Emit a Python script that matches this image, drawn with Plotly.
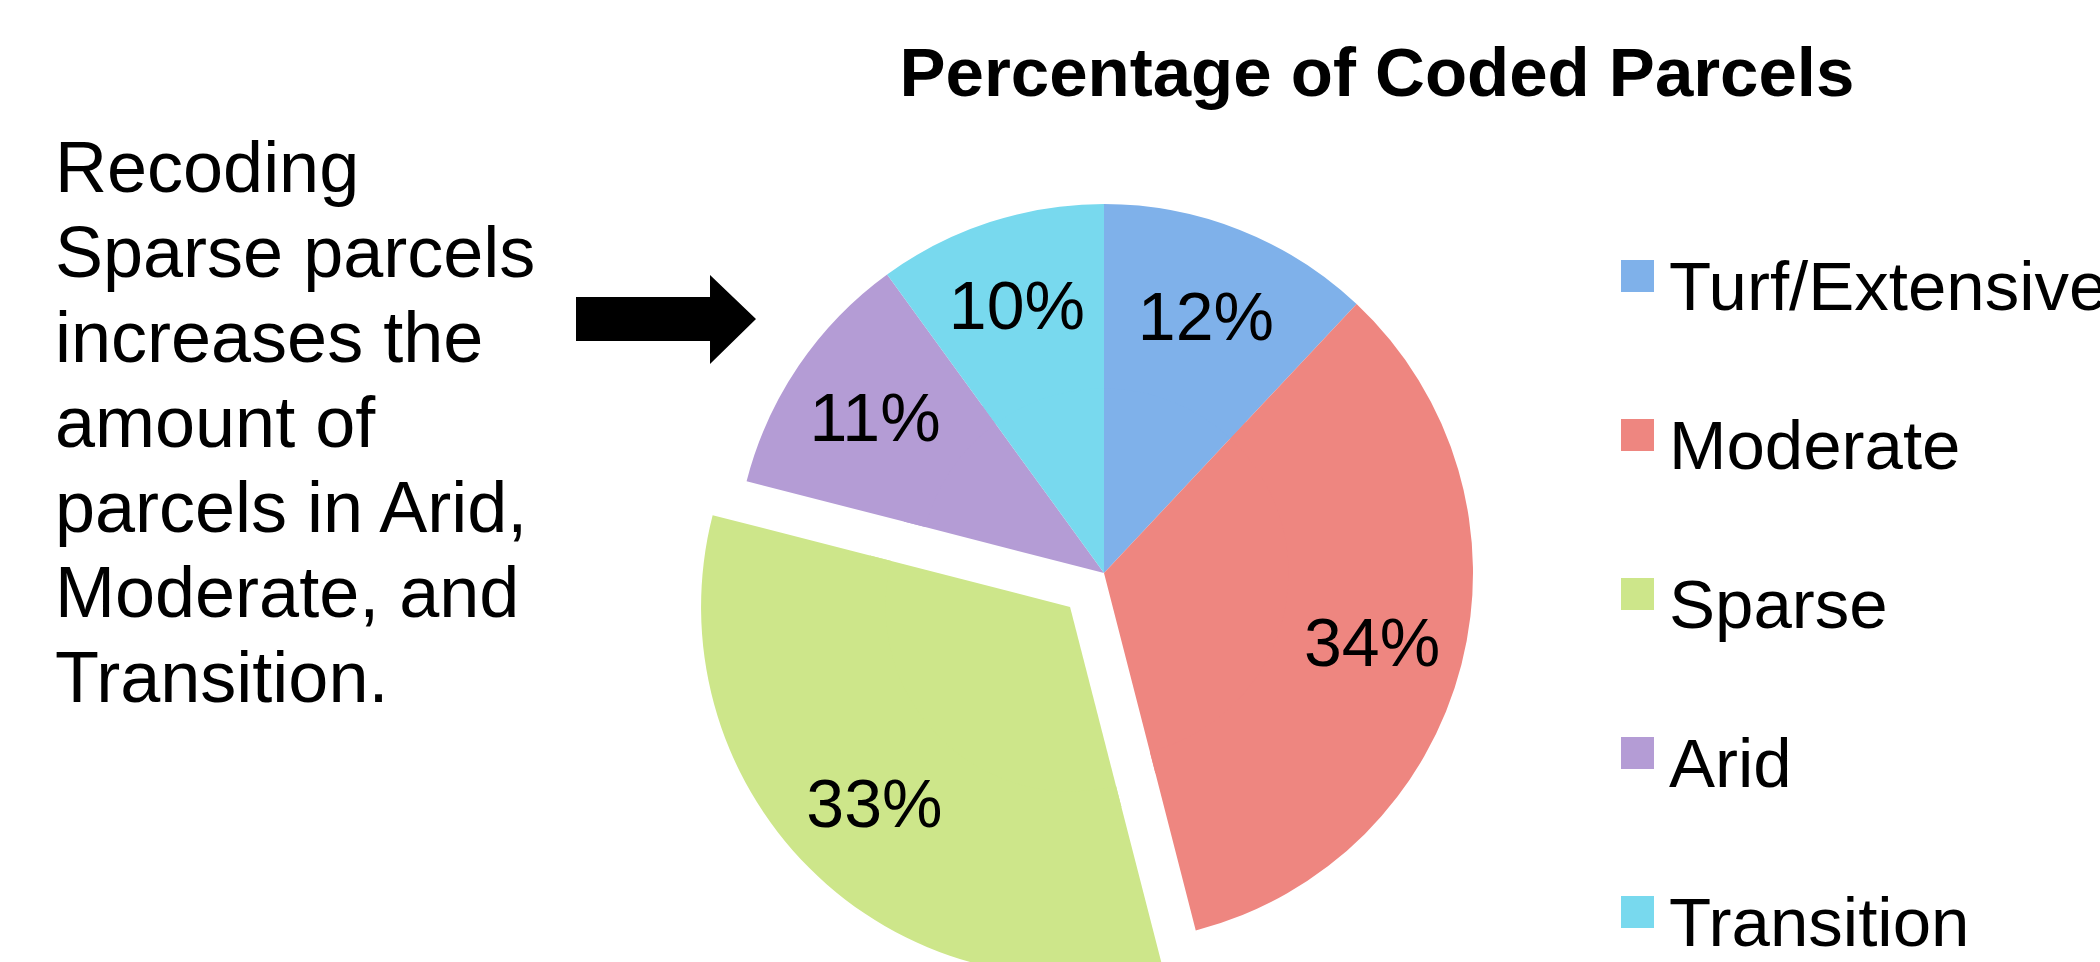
import plotly.graph_objects as go

# ---------------- data ----------------
categories = ["Turf/Extensive", "Moderate", "Sparse", "Arid", "Transition"]
percentages = [12, 34, 33, 11, 10]
pulled_categories = ["Sparse"]
slice_colors = ["#7FB1EA", "#EE8680", "#CDE68A", "#B49CD5", "#78D9EE"]

chart_title = "Percentage of Coded Parcels"
note_lines = ["Recoding", "Sparse parcels", "increases the", "amount of",
              "parcels in Arid,", "Moderate, and", "Transition."]

# ---------------- layout constants ----------------
W, H = 2100, 1000
FONT = "Liberation Sans, Arial, Helvetica, sans-serif"

CX, CY, R = 1104, 573, 369      # pie centre / radius in px
PULL_PX = 48                     # explode distance of pulled slice
HOLE = 0.5
R_IN = 0.56 * R                  # inner filler pie radius


def px(x):
    return x / W


def py(y):
    return 1 - y / H


def domain_for(r, pull):
    half = r * (1 + pull)
    return dict(x=[px(CX - half), px(CX + half)], y=[py(CY + half), py(CY - half)])


p_out = PULL_PX / R
p_in = PULL_PX / R_IN
pull_out = [p_out if c in pulled_categories else 0 for c in categories]
pull_in = [p_in if c in pulled_categories else 0 for c in categories]

fig = go.Figure()

# filler pie for the centre (so the labels of the ring sit like the original)
fig.add_trace(go.Pie(
    labels=categories, values=percentages, sort=False, direction="clockwise",
    rotation=0, marker=dict(colors=slice_colors, line=dict(width=0)),
    pull=pull_in, textinfo="none", hoverinfo="skip", showlegend=False,
    domain=domain_for(R_IN, p_in),
))

# main pie (ring) carrying the labels
fig.add_trace(go.Pie(
    labels=categories, values=percentages, sort=False, direction="clockwise",
    rotation=0, hole=HOLE, marker=dict(colors=slice_colors, line=dict(width=0)),
    pull=pull_out, texttemplate="%{percent:.0%}", textposition="inside",
    insidetextorientation="horizontal",
    textfont=dict(family=FONT, size=68, color="black"),
    showlegend=False, domain=domain_for(R, p_out),
))

shapes = []
annotations = []

# legend (drawn from categories / colours)
LEG_BASE0, LEG_STEP = 310, 159
for i, (cat, col) in enumerate(zip(categories, slice_colors)):
    base = LEG_BASE0 + LEG_STEP * i
    shapes.append(dict(type="rect", xref="paper", yref="paper",
                       x0=px(1621), x1=px(1654), y0=py(base - 18), y1=py(base - 50),
                       fillcolor=col, line=dict(width=0)))
    annotations.append(dict(text=cat, xref="paper", yref="paper",
                            x=px(1667), y=py(base - 24), xanchor="left", yanchor="middle",
                            showarrow=False, font=dict(family=FONT, size=69, color="black")))

# left note
NOTE_BASE0, NOTE_STEP = 192, 85
for i, line in enumerate(note_lines):
    base = NOTE_BASE0 + NOTE_STEP * i
    annotations.append(dict(text=line, xref="paper", yref="paper",
                            x=px(53), y=py(base - 25), xanchor="left", yanchor="middle",
                            showarrow=False, font=dict(family=FONT, size=72, color="black")))

# block arrow
arrow_pts = [(576, 297), (710, 297), (710, 275), (756, 319), (710, 364), (710, 341), (576, 341)]
path = "M " + " L ".join(f"{px(x):.5f},{py(y):.5f}" for x, y in arrow_pts) + " Z"
shapes.append(dict(type="path", xref="paper", yref="paper", path=path,
                   fillcolor="black", line=dict(width=0)))

fig.update_layout(
    width=W, height=H,
    margin=dict(l=0, r=0, t=0, b=0),
    paper_bgcolor="white", plot_bgcolor="white",
    title=dict(text=chart_title, x=px(1377), xanchor="center", xref="paper",
               y=1 - 72 / H, yref="container", yanchor="middle",
               font=dict(family=FONT, size=69, color="black", weight="bold")),
    shapes=shapes, annotations=annotations,
    showlegend=False,
)

fig.write_html(
    "out.html",
    config={"displayModeBar": False},
    post_script="document.body.style.margin='0';document.body.style.overflow='hidden';"
                "document.documentElement.style.overflow='hidden';",
)
